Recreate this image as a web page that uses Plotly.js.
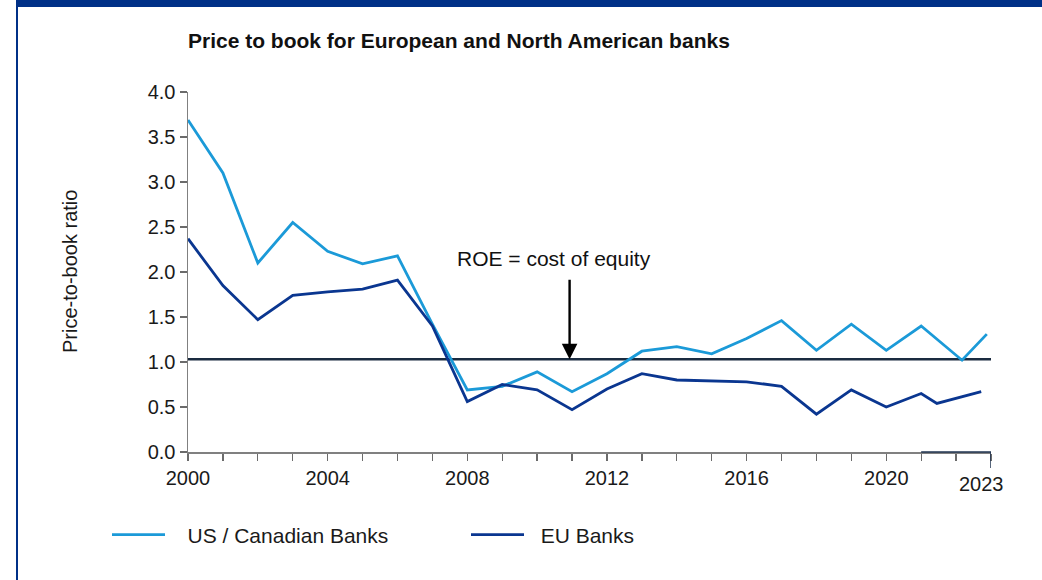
<!DOCTYPE html>
<html>
<head>
<meta charset="utf-8">
<script src="https://cdn.plot.ly/plotly-3.0.1.min.js"></script>
<style>
html,body{margin:0;padding:0;background:#fff;}
#wrap{position:relative;width:1042px;height:580px;overflow:hidden;}
#topbar{position:absolute;left:16px;top:0;width:1026px;height:7px;background:#003087;}
#leftbar{position:absolute;left:16px;top:0;width:2px;height:580px;background:#003087;}
#chart{position:absolute;left:0;top:0;width:1042px;height:580px;}
</style>
</head>
<body>
<div id="wrap">
<div id="chart"></div>
<div id="topbar"></div>
<div id="leftbar"></div>
</div>
<script>
// Data
const usYears = [2000,2001,2002,2003,2004,2005,2006,2007,2008,2009,2010,2011,2012,2013,2014,2015,2016,2017,2018,2019,2020,2021,2022.17,2022.88];
const usValues = [3.69,3.10,2.10,2.55,2.23,2.09,2.18,1.42,0.69,0.73,0.89,0.67,0.87,1.12,1.17,1.09,1.26,1.46,1.13,1.42,1.13,1.40,1.02,1.31];
const euYears = [2000,2001,2002,2003,2004,2005,2006,2007,2008,2009,2010,2011,2012,2013,2014,2015,2016,2017,2018,2019,2020,2021,2021.45,2022.72];
const euValues = [2.37,1.85,1.47,1.74,1.78,1.81,1.91,1.40,0.56,0.75,0.69,0.47,0.70,0.87,0.80,0.79,0.78,0.73,0.42,0.69,0.50,0.65,0.54,0.67];
const costOfEquityLevel = 1.03;
const thresholdYears = [2000, 2023];
const yearTicks = [2000,2001,2002,2003,2004,2005,2006,2007,2008,2009,2010,2011,2012,2013,2014,2015,2016,2017,2018,2019,2020,2021,2022,2023];
const labelledYears = [2000,2004,2008,2012,2016,2020];
const yTicks = [0,0.5,1,1.5,2,2.5,3,3.5,4];
const yTickLabels = ['0.0','0.5','1.0','1.5','2.0','2.5','3.0','3.5','4.0'];
const seriesNames = ['US / Canadian Banks','EU Banks'];
const chartTitle = 'Price to book for European and North American banks';
const yTitle = 'Price-to-book ratio';
const roeLabel = 'ROE = cost of equity';
const roeYear = 2010.93;
const roeLabelYear = 2010.49;
const roeLabelValue = 2.15;
const roeArrowTail = 1.93;
const lastYear = 2023;
const lastYearLabel = '2023';
const lastYearLabelPos = 2022.73;

const FONT = 'Liberation Sans, Arial, Helvetica, sans-serif';
const LIGHT = '#1b9ad8';
const DARK = '#0a3690';
const NB = '\u00a0';

const traces = [
  {x: thresholdYears, y: thresholdYears.map(()=>costOfEquityLevel), mode:'lines',
   line:{color:'#1a2b40', width:2.4}, showlegend:false, hoverinfo:'skip'},
  {x: usYears, y: usValues, name: NB+NB+NB+seriesNames[0], mode:'lines',
   line:{color:LIGHT, width:2.8}},
  {x: euYears, y: euValues, name: NB+NB+seriesNames[1], mode:'lines',
   line:{color:DARK, width:2.8}}
];

const layout = {
  width:1042, height:580,
  margin:{l:188, r:51, t:92, b:128},
  paper_bgcolor:'#ffffff', plot_bgcolor:'#ffffff',
  font:{family:FONT, size:20, color:'#1a1a1a'},
  showlegend:true,
  legend:{orientation:'h', x:(107-188)/803, xanchor:'left', y:-(535-452)/360, yanchor:'middle',
          font:{family:FONT, size:21, color:'#1a1a1a'}, itemwidth:53, entrywidth:291,
          bgcolor:'rgba(0,0,0,0)'},
  xaxis:{range:[2000,2023], tickmode:'array', tickvals:yearTicks,
         ticktext:yearTicks.map(y=>labelledYears.includes(y)?String(y):''),
         ticks:'outside', ticklen:7, tickcolor:'#6b6b6b', tickwidth:1.3,
         showline:true, linecolor:'#808080', linewidth:1.5, showgrid:false, zeroline:false,
         tickfont:{family:FONT, size:20, color:'#1a1a1a'}, fixedrange:true},
  yaxis:{range:[0,4], tickmode:'array', tickvals:yTicks, ticktext:yTickLabels,
         ticks:'outside', ticklen:7, tickcolor:'#6b6b6b', tickwidth:1.3,
         showline:true, linecolor:'#808080', linewidth:1.5, showgrid:false, zeroline:false,
         tickfont:{family:FONT, size:20, color:'#1a1a1a'}, fixedrange:true},
  shapes:[
    {type:'line', xref:'x', yref:'paper', x0:2021, x1:lastYear, y0:0, y1:0,
     line:{color:'#1f3350', width:1.5}},
    {type:'line', xref:'x', yref:'paper', ysizemode:'pixel', yanchor:0, x0:lastYear, x1:lastYear, y0:0, y1:-16,
     line:{color:'#1f3350', width:1.5}}
  ],
  annotations:[
    {xref:'paper', yref:'paper', x:(186-188)/803, y:(452-40)/360, xanchor:'left', yanchor:'middle',
     text:'<b>'+chartTitle+'</b>', showarrow:false, font:{family:FONT, size:21, color:'#111'}},
    {xref:'paper', yref:'paper', x:(70-188)/803, y:0.5, xanchor:'center', yanchor:'middle',
     text:yTitle, textangle:-90, showarrow:false, font:{family:FONT, size:20, color:'#1a1a1a'}},
    {xref:'x', yref:'y', x:roeLabelYear, y:roeLabelValue, text:roeLabel, showarrow:false,
     xanchor:'center', yanchor:'middle', font:{family:FONT, size:21, color:'#111'}},
    {xref:'x', yref:'y', x:roeYear, y:costOfEquityLevel, axref:'x', ayref:'y', ax:roeYear, ay:roeArrowTail,
     text:'', showarrow:true, arrowhead:2, arrowsize:1.3, arrowwidth:2.4, arrowcolor:'#000'},
    {xref:'x', yref:'paper', x:lastYearLabelPos, y:0, yshift:-32, text:lastYearLabel, showarrow:false,
     xanchor:'center', yanchor:'middle', font:{family:FONT, size:20, color:'#1a1a1a'}}
  ]
};

Plotly.newPlot('chart', traces, layout, {displayModeBar:false, staticPlot:true});
</script>
</body>
</html>
